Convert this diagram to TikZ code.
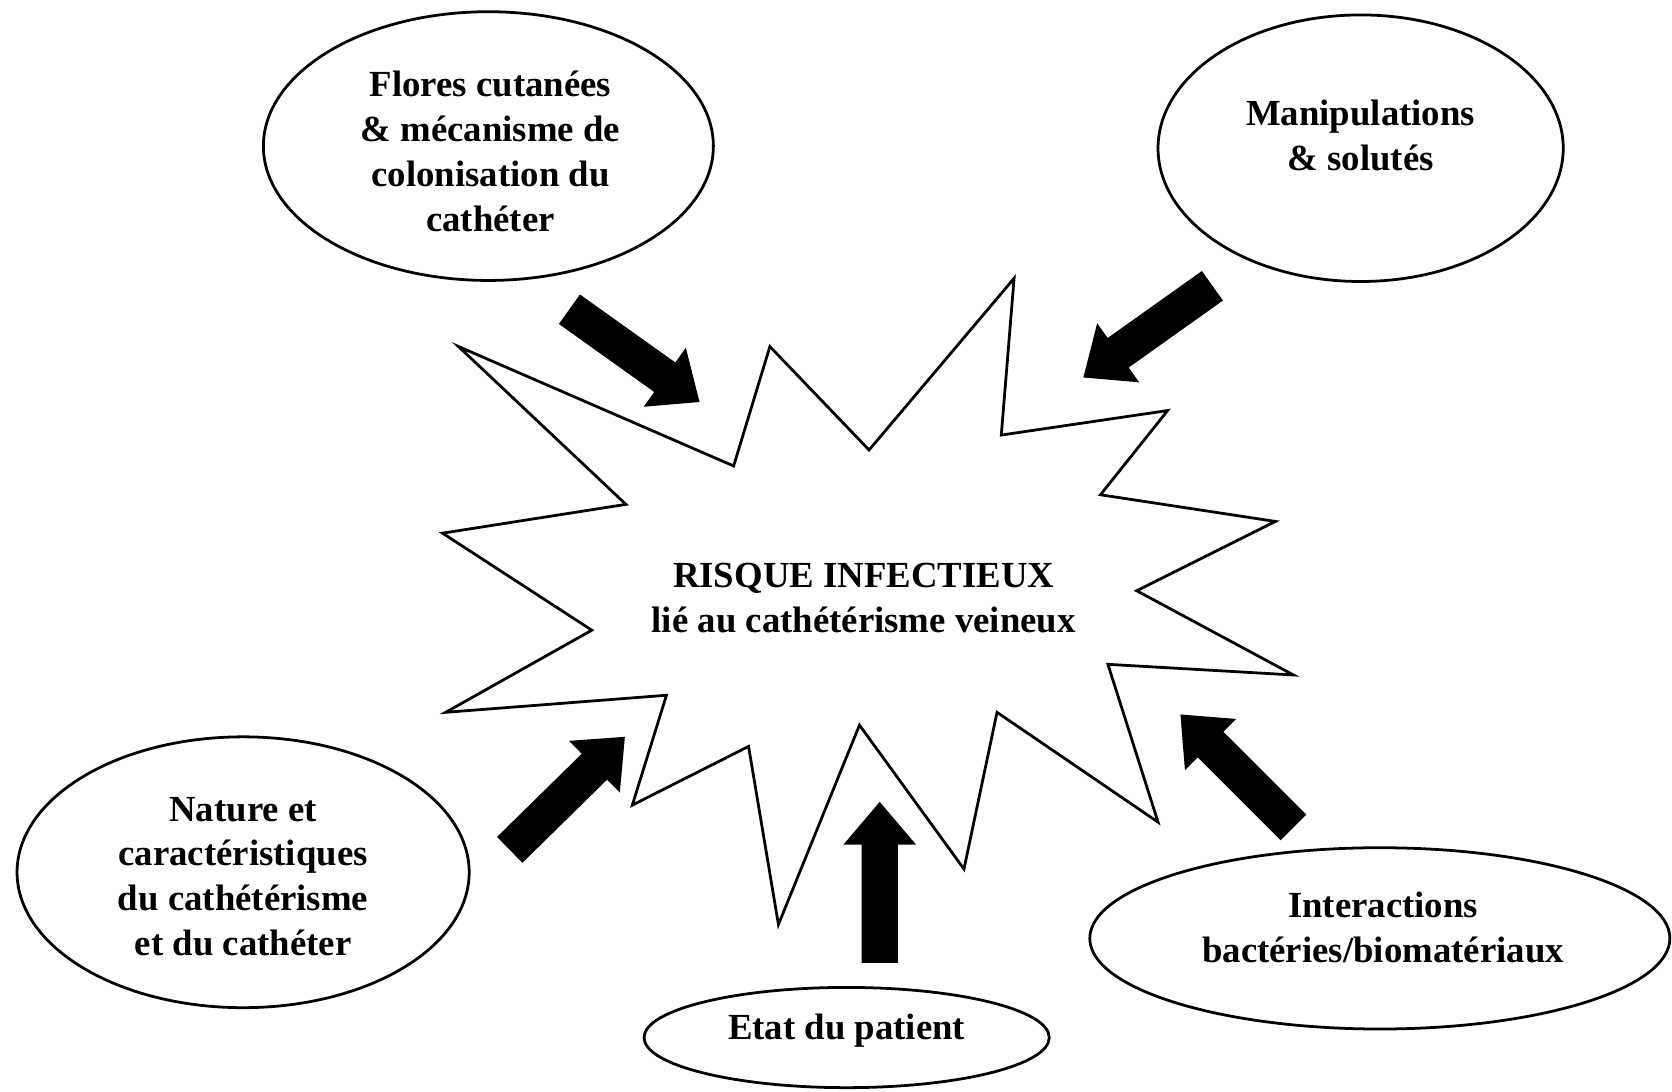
\documentclass[tikz,border=0pt]{standalone}
\usepackage{fontspec}
\setmainfont{Liberation Serif}
\usetikzlibrary{calc,shapes.geometric}
\newcommand\blockarrow[2]{%
  \coordinate (hb) at ($(#2)!40pt!(#1)$);
  \fill ($(#1)!17pt!90:(#2)$) -- ($(hb)!17pt!90:(#2)$) -- ($(hb)!34pt!90:(#2)$) -- (#2)
    -- ($(hb)!34pt!-90:(#2)$) -- ($(hb)!17pt!-90:(#2)$) -- ($(#1)!17pt!-90:(#2)$) -- cycle;
}
\begin{document}
\begin{tikzpicture}[x=1pt,y=-1pt,
  oval/.style={ellipse, draw, line width=2.6pt, inner sep=0pt, fill=white},
  lbl/.style={align=center, font=\bfseries\fontsize{34.5}{42}\selectfont, inner sep=0pt},
  starline/.style={draw, line width=2.6pt, fill=white, line join=miter, miter limit=20}
]
\useasboundingbox[fill=white] (0,0) rectangle (1568,1024);

% ellipses
\node[oval, minimum width=422pt, minimum height=252pt] (e1) at (458,137) {};
\node[oval, minimum width=380pt, minimum height=250pt] (e2) at (1276,139) {};
\node[oval, minimum width=424pt, minimum height=254pt] (e3) at (228,818) {};
\node[oval, minimum width=544pt, minimum height=170pt] (e4) at (1294,880) {};
\node[oval, minimum width=380pt, minimum height=94pt] (e5) at (794,973) {};

% star
\path[starline] (430,325) -- (688,437) -- (722,325) -- (815,422) -- (951,261)
  -- (939,408) -- (1095,385) -- (1032,464) -- (1196,489) -- (1066,554)
  -- (1213,633) -- (1039,623) -- (1086,771) -- (935,668) -- (904,815)
  -- (806,680) -- (730,867) -- (702,700) -- (593,755) -- (625,652)
  -- (418,668) -- (555,591) -- (415,500) -- (587,473) -- cycle;

% texts
\node[lbl] (t1) at (460,142) {Flores cutan\'ees\\\& m\'ecanisme de\\colonisation du\\cath\'eter};
\node[lbl] (t2) at (1276,127) {Manipulations\\\& solut\'es};
\node[lbl] (t3) at (228,822) {Nature et\\caract\'eristiques\\du cath\'et\'erisme\\et du cath\'eter};
\node[lbl] (t4) at (1297,870) {Interactions\\bact\'eries/biomat\'eriaux};
\node[lbl] (t5) at (794,967) {Etat du patient};
\node[lbl] (tc) at (810,561) {RISQUE INFECTIEUX\\li\'e au cath\'et\'erisme veineux};

% arrows
\coordinate (a1s) at (534,290);   \coordinate (a1e) at (656,377);
\coordinate (a2s) at (1137,268);  \coordinate (a2e) at (1016,354);
\coordinate (a3s) at (478,797);   \coordinate (a3e) at (586,691);
\coordinate (a4s) at (825,903);   \coordinate (a4e) at (825,752);
\coordinate (a5s) at (1213,776);  \coordinate (a5e) at (1107,670);
\blockarrow{a1s}{a1e}
\blockarrow{a2s}{a2e}
\blockarrow{a3s}{a3e}
\blockarrow{a4s}{a4e}
\blockarrow{a5s}{a5e}
\end{tikzpicture}
\end{document}
